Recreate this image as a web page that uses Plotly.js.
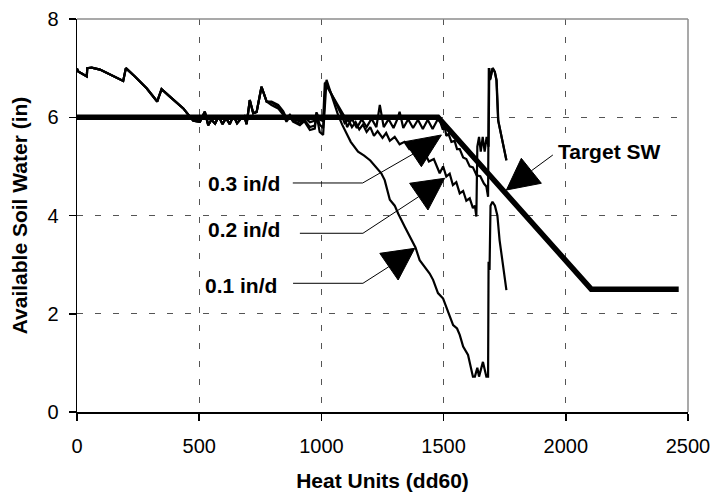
<!DOCTYPE html>
<html>
<head>
<meta charset="utf-8">
<script src="https://cdn.plot.ly/plotly-3.0.1.min.js"></script>
<style>html,body{margin:0;padding:0;background:#fff;}#chart{width:712px;height:495px;}</style>
</head>
<body>
<div id="chart"></div>
<script>
// ---- data ----
var commonX = [0, 5, 40, 42, 60, 94, 189, 200, 237, 285, 328, 346, 380, 435, 462, 476, 503, 523, 537, 550, 565, 580, 595, 610, 625, 640, 655, 670, 685, 694, 707, 721, 735, 755, 776];
var commonY = [6.99, 6.93, 6.83, 7.0, 7.01, 6.97, 6.74, 7.0, 6.83, 6.59, 6.32, 6.57, 6.42, 6.18, 6.01, 5.93, 5.91, 6.11, 5.84, 5.95, 5.87, 6.02, 5.86, 5.98, 5.86, 6.03, 5.88, 5.97, 6.02, 5.86, 6.35, 6.08, 6.11, 6.62, 6.32];

var rate01X = [796, 823, 844, 857, 871, 884, 912, 930, 953, 973, 980, 993, 1007, 1021, 1045, 1068, 1085, 1103, 1120, 1150, 1175, 1200, 1225, 1245, 1259, 1280, 1300, 1314, 1341, 1368, 1385, 1402, 1420, 1443, 1457, 1477, 1498, 1518, 1539, 1555, 1566, 1580, 1600, 1620, 1628, 1638, 1645, 1661, 1675, 1682, 1684, 1688, 1692, 1700, 1710, 1720, 1729, 1757];
var rate01Y = [6.25, 6.18, 6.05, 5.91, 6.01, 5.91, 5.84, 5.92, 5.74, 5.77, 6.05, 5.7, 5.64, 6.76, 6.4, 6.05, 5.85, 5.67, 5.5, 5.30, 5.22, 5.12, 4.98, 4.86, 4.72, 4.32, 4.2, 4.04, 3.77, 3.50, 3.35, 3.09, 2.98, 2.82, 2.69, 2.42, 2.31, 2.04, 1.77, 1.7, 1.57, 1.33, 1.16, 0.72, 0.72, 0.9, 0.72, 1.02, 0.72, 0.72, 3.06, 2.89, 4.2, 4.28, 4.2, 4.0, 3.5, 2.48];

var rate02X = [796, 823, 844, 857, 871, 884, 912, 930, 953, 973, 980, 993, 1007, 1017, 1050, 1082, 1095, 1110, 1125, 1140, 1155, 1170, 1185, 1200, 1215, 1230, 1250, 1265, 1280, 1300, 1320, 1340, 1360, 1380, 1400, 1420, 1440, 1460, 1484, 1498, 1511, 1525, 1538, 1552, 1566, 1580, 1593, 1607, 1620, 1628, 1634, 1638, 1645, 1652, 1660, 1668, 1676, 1684, 1687, 1691, 1701, 1710, 1717, 1724, 1757];
var rate02Y = [6.3, 6.22, 6.08, 5.95, 6.03, 5.93, 5.87, 5.95, 5.8, 5.83, 6.07, 5.85, 5.78, 6.72, 6.38, 6.05, 5.88, 5.95, 5.8, 5.9, 5.75, 5.85, 5.7, 5.8, 5.62, 5.72, 5.58, 5.68, 5.52, 5.6, 5.45, 5.5, 5.35, 5.4, 5.25, 5.3, 5.1, 5.15, 4.86, 5.0, 4.79, 4.85, 4.62, 4.68, 4.45, 4.5, 4.3, 4.35, 4.15, 4.2, 3.98, 5.4, 5.6, 5.3, 5.6, 5.3, 5.6, 5.4, 7.0, 6.78, 7.0, 6.92, 6.75, 5.92, 5.12];

var rate03X = [796, 823, 844, 857, 871, 884, 912, 930, 953, 973, 980, 993, 1007, 1014, 1055, 1096, 1105, 1125, 1145, 1165, 1185, 1205, 1225, 1239, 1255, 1275, 1295, 1310, 1320, 1335, 1355, 1375, 1395, 1415, 1435, 1455, 1475, 1484, 1497, 1505, 1511, 1520, 1532, 1545, 1555, 1566, 1580, 1593, 1607, 1620, 1635, 1650, 1665, 1675, 1682, 1685, 1690, 1700, 1709, 1716, 1723, 1757];
var rate03Y = [6.32, 6.25, 6.12, 5.98, 6.05, 5.96, 5.92, 6.0, 5.9, 5.93, 6.1, 5.95, 5.92, 6.7, 6.35, 6.0, 5.8, 5.97, 5.78, 5.96, 5.8, 5.97, 5.8, 6.25, 5.8, 5.96, 5.78, 5.95, 6.11, 5.78, 5.96, 5.78, 5.95, 5.76, 5.95, 5.76, 5.95, 5.94, 5.75, 5.8, 5.62, 5.66, 5.5, 5.52, 5.35, 5.35, 5.18, 5.15, 5.0, 4.98, 4.82, 4.8, 4.65, 4.59, 4.38, 7.0, 6.76, 7.0, 6.93, 6.76, 5.94, 5.13];

var targetX = [0, 1477, 2104, 2462];
var targetY = [6, 6, 2.5, 2.5];

var xTicks = [0, 500, 1000, 1500, 2000, 2500];
var yTicks = [0, 2, 4, 6, 8];

var seriesLabels = ['0.3 in/d', '0.2 in/d', '0.1 in/d', 'Target SW'];

// ---- callout geometry (annotation arrows, in axis units) ----
var callouts = [
  {text: seriesLabels[0], tx: 840, ty: 4.66, lead: [[883, 4.662], [1169, 4.662], [1375, 5.252]], tri: [[1491, 5.639], [1341, 5.502], [1409, 4.993]], anchor: 'right'},
  {text: seriesLabels[1], tx: 840, ty: 3.705, lead: [[912, 3.638], [1170, 3.638], [1398, 4.383]], tri: [[1504, 4.757], [1361, 4.656], [1436, 4.112]], anchor: 'right'},
  {text: seriesLabels[2], tx: 828, ty: 2.585, lead: [[884, 2.62], [1170, 2.62], [1276, 2.958]], tri: [[1382, 3.332], [1239, 3.23], [1314, 2.687]], anchor: 'right'},
  {text: seriesLabels[3], tx: 1958, ty: 5.293, lead: [[1947, 5.232], [1859, 4.91]], tri: [[1757, 4.519], [1818, 5.164], [1900, 4.656]], anchor: 'left'}
];

var thin = {color: '#000', width: 2.2};
var traces = [
  {x: commonX.concat(rate03X), y: commonY.concat(rate03Y), mode: 'lines', line: thin, name: seriesLabels[0]},
  {x: commonX.concat(rate02X), y: commonY.concat(rate02Y), mode: 'lines', line: thin, name: seriesLabels[1]},
  {x: commonX.concat(rate01X), y: commonY.concat(rate01Y), mode: 'lines', line: thin, name: seriesLabels[2]},
  {x: targetX, y: targetY, mode: 'lines', line: {color: '#000', width: 5.5}, name: seriesLabels[3]}
];

var font = 'Liberation Sans, Arial, sans-serif';
var shapes = [
  {type: 'line', xref: 'paper', yref: 'paper', x0: 0, x1: 1, y0: 1, y1: 1, line: {color: '#8c8c8c', width: 1.5}},
  {type: 'line', xref: 'paper', yref: 'paper', x0: 1, x1: 1, y0: 0, y1: 1, line: {color: '#8c8c8c', width: 1.5}}
];
var annotations = [];
callouts.forEach(function (c) {
  var p = 'M' + c.lead.map(function (q) { return q[0] + ',' + q[1]; }).join(' L');
  shapes.push({type: 'path', xref: 'x', yref: 'y', path: p, line: {color: '#000', width: 1}});
  var t = 'M' + c.tri.map(function (q) { return q[0] + ',' + q[1]; }).join(' L') + ' Z';
  shapes.push({type: 'path', xref: 'x', yref: 'y', path: t, fillcolor: '#000', line: {color: '#000', width: 1}});
  annotations.push({x: c.tx, y: c.ty, xref: 'x', yref: 'y', text: '<b>' + c.text + '</b>', showarrow: false,
    xanchor: c.anchor, yanchor: 'middle', font: {family: font, size: 21, color: '#000'}});
});

var layout = {
  width: 712, height: 495,
  margin: {l: 77, r: 24, t: 19, b: 83},
  paper_bgcolor: '#fff', plot_bgcolor: '#fff',
  showlegend: false,
  font: {family: font, color: '#000'},
  xaxis: {
    range: [0, 2500], tickvals: xTicks, ticktext: xTicks.map(String),
    ticks: 'outside', ticklen: 7, tickwidth: 1.5, tickcolor: '#000',
    showline: true, linecolor: '#000', linewidth: 1.5,
    showgrid: true, gridcolor: '#555', gridwidth: 1, griddash: '6px,12px',
    zeroline: false, tickfont: {size: 20, family: font, color: '#000'},
    ticklabelstandoff: 8,
    title: {text: '<b>Heat Units (dd60)</b>', font: {size: 21, family: font, color: '#000'}, standoff: 18}
  },
  yaxis: {
    range: [0, 8], tickvals: yTicks, ticktext: yTicks.map(String),
    ticks: 'outside', ticklen: 7, tickwidth: 1.5, tickcolor: '#000',
    showline: true, linecolor: '#000', linewidth: 1.5,
    showgrid: true, gridcolor: '#555', gridwidth: 1, griddash: '6px,12px',
    zeroline: false, tickfont: {size: 20, family: font, color: '#000'},
    ticklabelstandoff: 6,
    title: {text: '<b>Available Soil Water (in)</b>', font: {size: 21, family: font, color: '#000'}, standoff: 14}
  },
  shapes: shapes,
  annotations: annotations
};

Plotly.newPlot('chart', traces, layout, {staticPlot: true, displayModeBar: false});
</script>
</body>
</html>
